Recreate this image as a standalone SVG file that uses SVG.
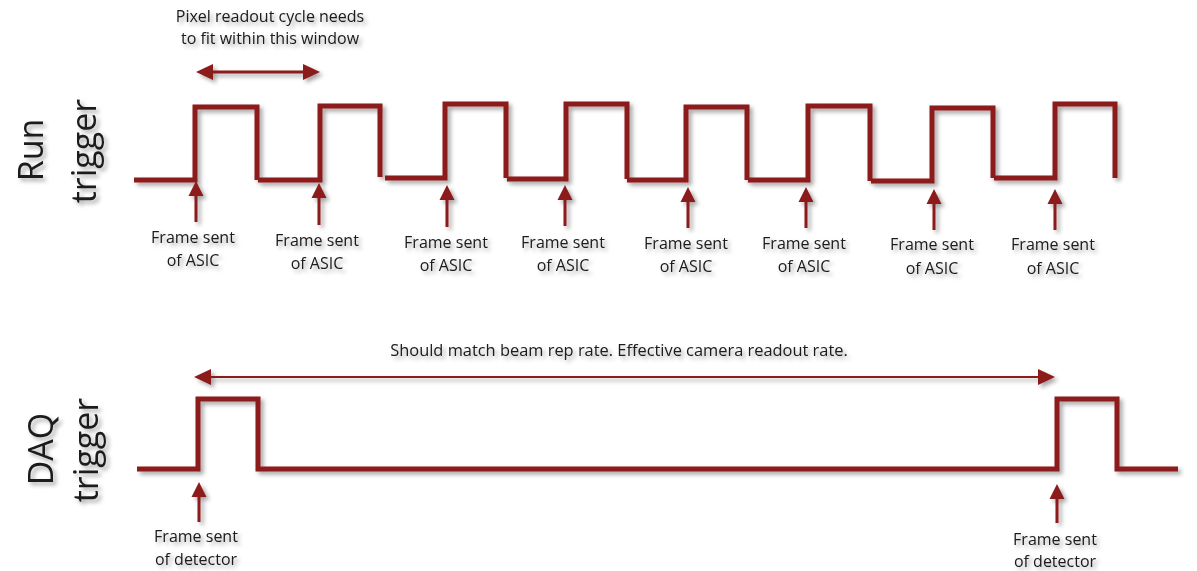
<svg xmlns="http://www.w3.org/2000/svg" width="1197" height="571" viewBox="0 0 1197 571">
<defs>
<filter id="sh" x="-20%" y="-20%" width="140%" height="140%">
<feDropShadow dx="3" dy="3" stdDeviation="2" flood-color="#000" flood-opacity="0.35"/>
</filter>
<marker id="ah" markerUnits="userSpaceOnUse" markerWidth="16" markerHeight="16" refX="0" refY="7.5" orient="auto-start-reverse" overflow="visible">
<path d="M0,0 L15,7.5 L0,15 Z" fill="#8C1A1D"/>
</marker>
<marker id="ahs" markerUnits="userSpaceOnUse" markerWidth="16" markerHeight="16" refX="0" refY="8" orient="auto-start-reverse" overflow="visible">
<path d="M0,0 L17,8 L0,16 Z" fill="#8C1A1D"/>
</marker>
</defs>
<style>
.wave{fill:none;stroke:#8C1A1D;stroke-width:5;stroke-linejoin:miter;stroke-linecap:butt}
.arr{stroke:#8C1A1D;stroke-width:3;fill:none}
.t{font-family:"Open Sans","Liberation Sans",sans-serif;fill:#1a1a1a;text-anchor:middle}
.lb{font-size:16px}
.big{font-size:34px}
</style>
<rect width="1197" height="571" fill="#fff"/>

<g id="title" filter="url(#sh)">
<text class="t lb" x="270" y="22">Pixel readout cycle needs</text>
<text class="t lb" x="270" y="44">to fit within this window</text>
</g>

<g id="run-trigger-label" filter="url(#sh)">
<text class="t big" transform="translate(43,150) rotate(-90)">Run</text>
<text class="t big" transform="translate(96,151) rotate(-90)">trigger</text>
</g>

<g id="daq-trigger-label" filter="url(#sh)">
<text class="t big" transform="translate(53,449) rotate(-90)">DAQ</text>
<text class="t big" transform="translate(98,450) rotate(-90)">trigger</text>
</g>

<g id="run-waveform" filter="url(#sh)">
<polyline class="wave" points="134,180 195,180 195,107 257,107 257,180"/>
<polyline class="wave" points="258,180 320,180 320,106 380,106 380,177"/>
<polyline class="wave" points="385,178 445,178 445,104 506,104 506,178"/>
<polyline class="wave" points="507,179 566,179 566,104 627,104 627,179"/>
<polyline class="wave" points="627,180 686,180 686,107 747,107 747,180"/>
<polyline class="wave" points="748,180 808,180 808,106 870,106 870,181"/>
<polyline class="wave" points="871,181 932,181 932,108 993,108 993,178"/>
<polyline class="wave" points="994,178 1055,178 1055,104 1115,104 1115,178"/>
</g>

<g id="daq-waveform" filter="url(#sh)">
<polyline class="wave" points="137,469 198,469 198,399 258,399 258,469 1057,469 1057,399 1117,399 1117,469 1178,469"/>
</g>

<g id="note" filter="url(#sh)">
<text class="t" style="font-size:16.4px" x="619" y="356">Should match beam rep rate. Effective camera readout rate.</text>
</g>

<g id="run-labels" filter="url(#sh)">
<g id="lbl1"><text class="t lb" x="193" y="243">Frame sent</text><text class="t lb" x="193" y="266">of ASIC</text></g>
<g id="lbl2"><text class="t lb" x="317" y="246">Frame sent</text><text class="t lb" x="317" y="269">of ASIC</text></g>
<g id="lbl3"><text class="t lb" x="446" y="248">Frame sent</text><text class="t lb" x="446" y="271">of ASIC</text></g>
<g id="lbl4"><text class="t lb" x="563" y="248">Frame sent</text><text class="t lb" x="563" y="271">of ASIC</text></g>
<g id="lbl5"><text class="t lb" x="686" y="249">Frame sent</text><text class="t lb" x="686" y="272">of ASIC</text></g>
<g id="lbl6"><text class="t lb" x="804" y="249">Frame sent</text><text class="t lb" x="804" y="272">of ASIC</text></g>
<g id="lbl7"><text class="t lb" x="932" y="250">Frame sent</text><text class="t lb" x="932" y="274">of ASIC</text></g>
<g id="lbl8"><text class="t lb" x="1053" y="250">Frame sent</text><text class="t lb" x="1053" y="274">of ASIC</text></g>
</g>

<g id="daq-labels" filter="url(#sh)">
<g id="lbl9"><text class="t lb" x="196" y="542">Frame sent</text><text class="t lb" x="196" y="565">of detector</text></g>
<g id="lbl10"><text class="t lb" x="1055" y="545">Frame sent</text><text class="t lb" x="1055" y="567">of detector</text></g>
</g>

<g id="connectors" filter="url(#sh)">
<line class="arr" x1="213" y1="72" x2="303" y2="72" marker-start="url(#ahs)" marker-end="url(#ahs)"/>
<line class="arr" style="stroke-width:2" x1="211" y1="377" x2="1038" y2="377" marker-start="url(#ahs)" marker-end="url(#ahs)"/>
<line class="arr" x1="196" y1="222" x2="196" y2="196" marker-end="url(#ah)"/>
<line class="arr" x1="319" y1="225" x2="319" y2="198" marker-end="url(#ah)"/>
<line class="arr" x1="447" y1="227" x2="447" y2="200" marker-end="url(#ah)"/>
<line class="arr" x1="565" y1="226" x2="565" y2="200" marker-end="url(#ah)"/>
<line class="arr" x1="688" y1="228" x2="688" y2="202" marker-end="url(#ah)"/>
<line class="arr" x1="806" y1="228" x2="806" y2="202" marker-end="url(#ah)"/>
<line class="arr" x1="934" y1="230" x2="934" y2="204" marker-end="url(#ah)"/>
<line class="arr" x1="1055" y1="230" x2="1055" y2="204" marker-end="url(#ah)"/>
<line class="arr" x1="199" y1="522" x2="199" y2="497" marker-end="url(#ah)"/>
<line class="arr" x1="1057" y1="523" x2="1057" y2="499" marker-end="url(#ah)"/>
</g>
</svg>
